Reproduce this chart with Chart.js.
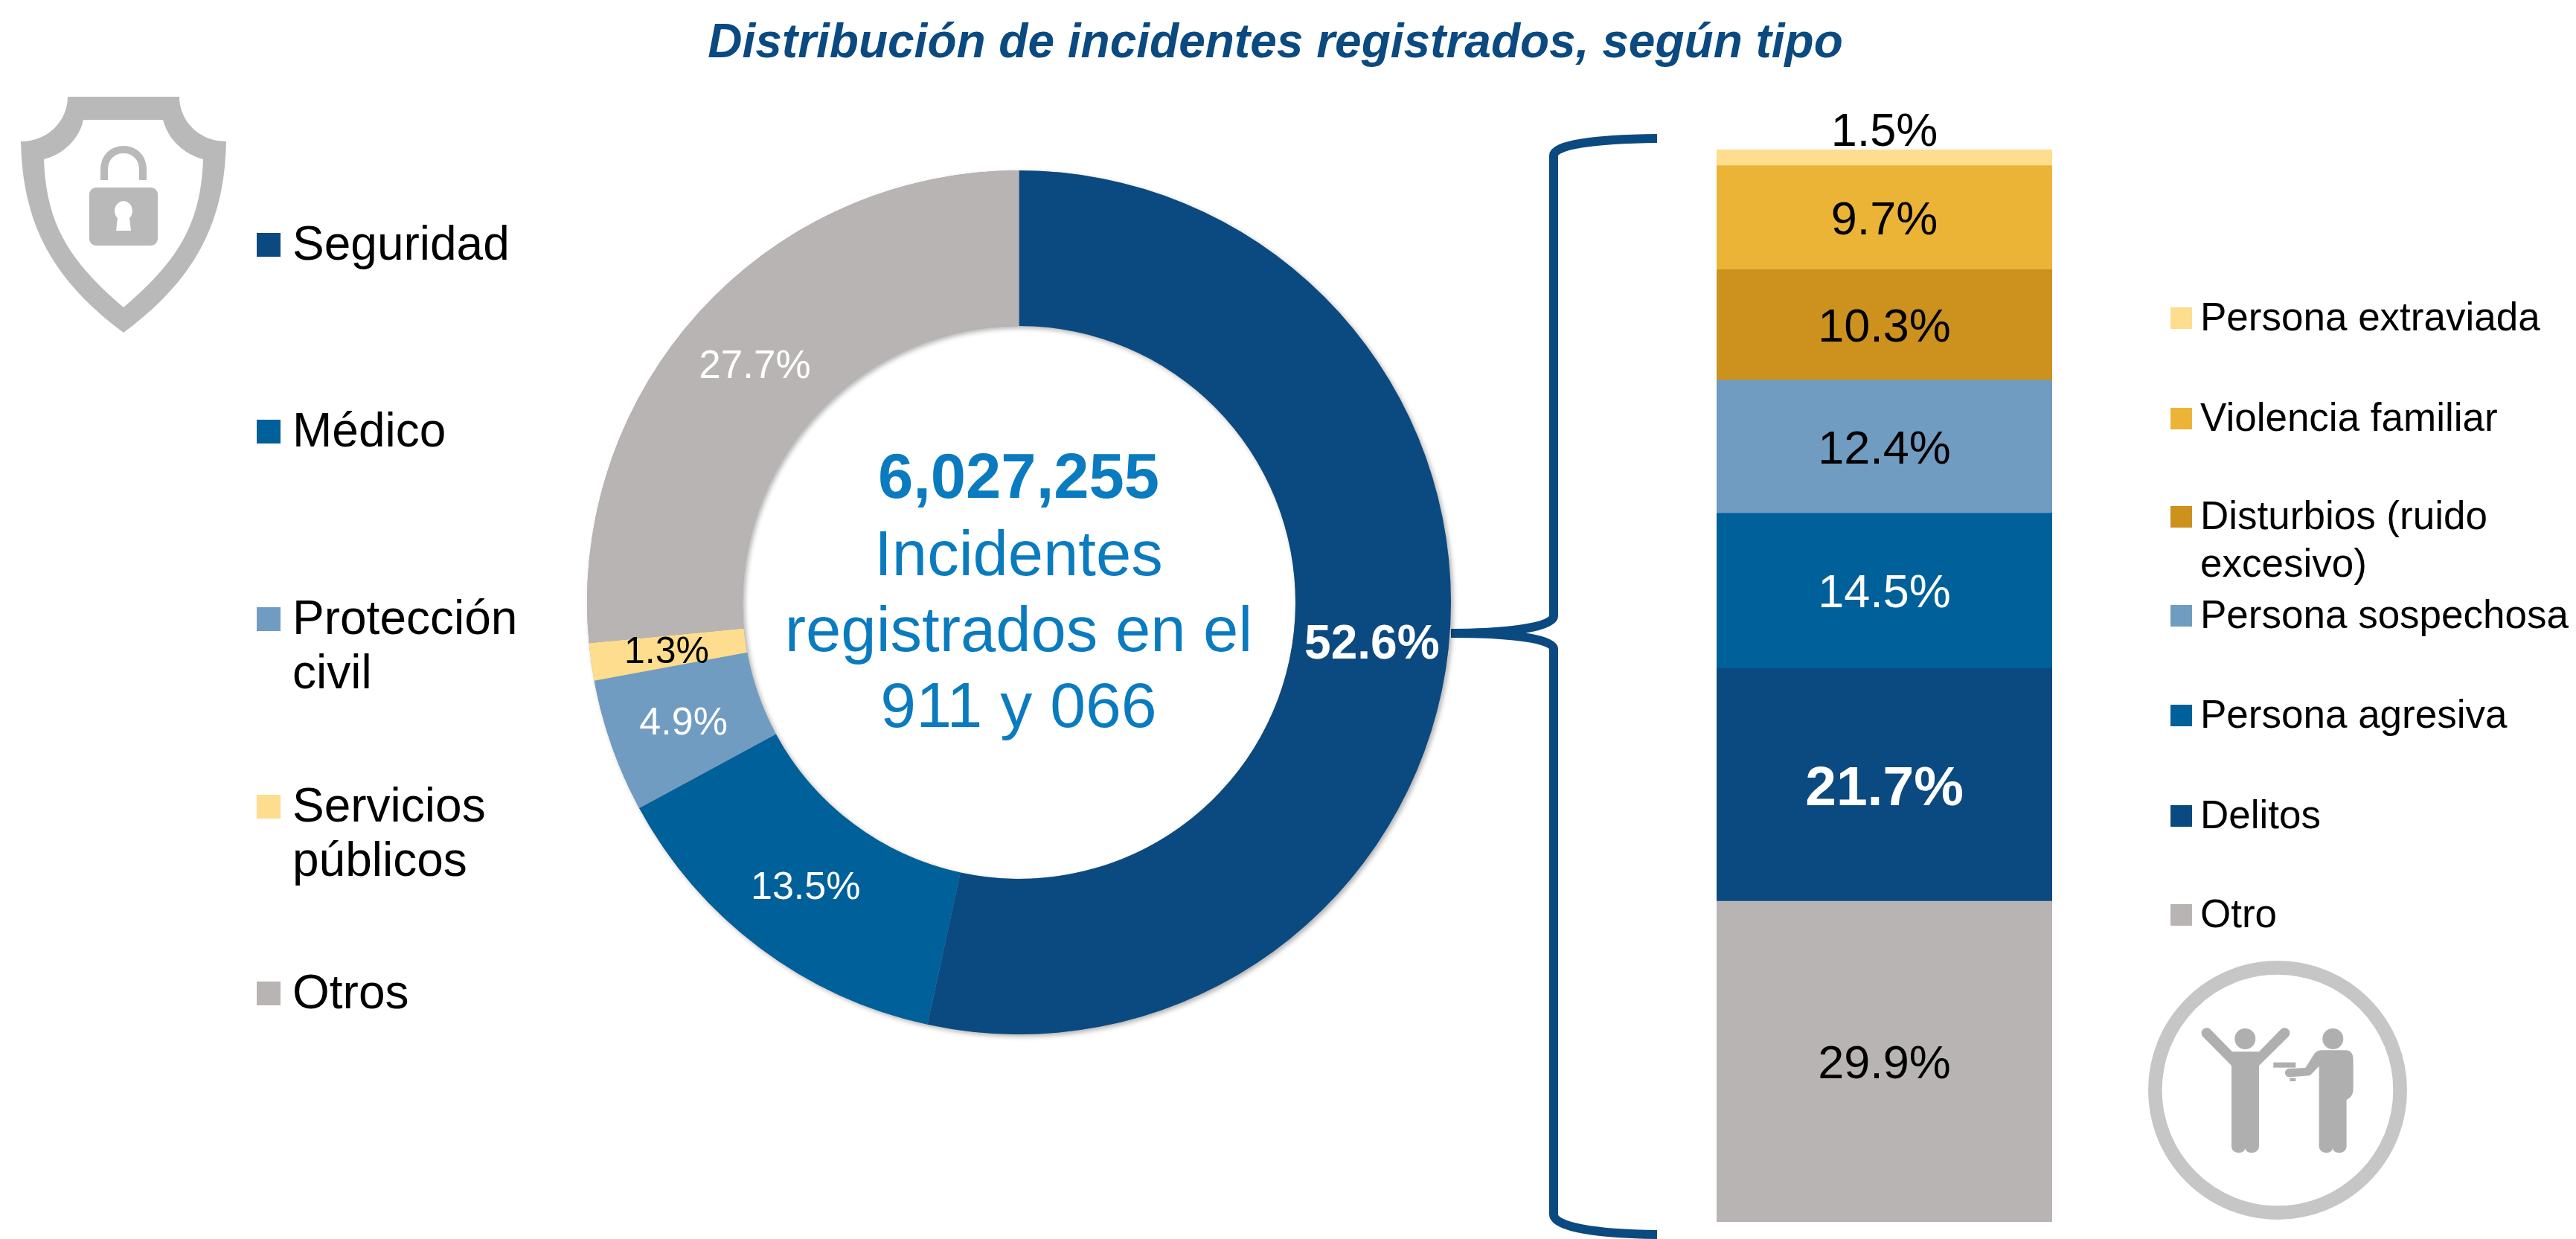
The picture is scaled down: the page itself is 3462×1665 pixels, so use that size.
<!DOCTYPE html>
<html lang="es"><head><meta charset="utf-8">
<script src="https://cdn.jsdelivr.net/npm/chart.js@4"></script>
<style>
html,body{margin:0;padding:0;background:#fff;width:3462px;height:1665px;overflow:hidden;font-family:"Liberation Sans",Arial,sans-serif}
canvas,svg,.t,.m{position:absolute}
.t{white-space:pre;color:#000}
.m{display:block}
</style></head><body>
<svg width="3462" height="1665" style="left:0;top:0">
  <path fill="none" stroke="#0b4a80" stroke-width="12" d="M2227,186 C2140,187 2088,195 2088,209 L2088,828 C2088,842 2030,851 1950,851 C2030,851 2088,858 2088,872 L2088,1632 C2088,1648 2140,1658 2227,1659"/>
  <g fill="#b9b9b9">
    <path fill-rule="evenodd" d="M91,130 L241,130 C241,160 265,190 304,190 C302,290 270,370 166,447 C62,370 30,290 28,190 C67,190 91,160 91,130 Z M112,161 L219,161 C225,185 245,207 273,214 C270,300 240,350 166,413 C92,350 62,300 59,214 C87,207 107,185 112,161 Z"/>
    <rect x="120" y="252" width="92" height="78" rx="9"/>
    <path fill="none" stroke="#b9b9b9" stroke-width="10" d="M140,242 L140,228 C140,192 192,192 192,228 L192,242"/>
    <path fill="#fff" d="M154,283 A12,13 0 1 1 174,293 L176,310 L156,310 L158,293 A12,13 0 0 1 154,283 Z"/>
  </g>
  <g transform="translate(2800,1250) scale(0.3333)">
    <circle cx="783" cy="645" r="494" fill="none" stroke="#c6c6c6" stroke-width="56"/>
    <g fill="#afafaf">
      <circle cx="652" cy="438" r="42"/><circle cx="1006" cy="438" r="42"/>
      <path d="M597,546 L482,430 A20,20 0 0 1 512,400 L600,490 L708,490 L796,400 A20,20 0 0 1 826,430 L708,546 L708,870 C708,905 655,905 652,878 C650,905 597,905 597,870 Z"/>
      <path d="M950,548 L914,586 L835,592 A17,17 0 0 1 826,558 L895,555 L930,500 C940,487 950,484 965,484 L1060,484 C1080,486 1088,500 1088,525 L1088,640 C1088,665 1075,678 1061,684 L1061,870 C1061,905 1008,905 1005,878 C1003,905 950,905 950,870 Z"/>
      <rect x="766" y="533" width="90" height="21"/><rect x="832" y="596" width="24" height="13"/>
    </g>
  </g>
</svg>
<canvas id="donut" width="1201" height="1201" style="left:769px;top:209px"></canvas>
<canvas id="bar" width="451" height="1565" style="left:2307px;top:100px"></canvas>
<div id="txt"></div>
<script>
const donutCategories=["Seguridad","Médico","Protección civil","Servicios públicos","Otros"];
// The printed percentages, and the shares the ring's arcs actually span in the picture (they differ slightly).
const donutPrinted=["52.6%","13.5%","4.9%","1.3%","27.7%"];
const donutArcShares=[53.4,13.7,5.0,1.4,26.5];
const donutColors=["#0b4a80","#00609a","#719cc2","#fedd8e","#b9b4b4"];
const barCategories=["Otro","Delitos","Persona agresiva","Persona sospechosa","Disturbios (ruido excesivo)","Violencia familiar","Persona extraviada"];
const barValues=[29.9,21.7,14.5,12.4,10.3,9.7,1.5];
const barColors=["#b9b4b4","#0b4a80","#00609a","#719cc2","#cd911e","#ecb437","#fedd8e"];

const FF='"Liberation Sans",Arial,sans-serif';
const donutLabelStyle=[
 {c:"#fff",s:64,b:true,dx:1,dy:7},{c:"#fff",s:52,dx:-1,dy:3},{c:"#fff",s:52,dx:-2,dy:5},{c:"#000",s:50,dx:-2,dy:2},{c:"#fff",s:53,dx:-3,dy:4}];
const barLabelStyle=[
 {c:"#000",s:63,dy:5},{c:"#fff",s:75,b:true,dy:7},{c:"#fff",s:63,dy:5},{c:"#000",s:63,dy:5},{c:"#000",s:63,dy:5},{c:"#000",s:63,dy:5},{c:"#000",s:63,dy:-33}];

const ringShadow={id:"ringShadow",beforeDatasetsDraw(ch){
  const a=ch.getDatasetMeta(0).data[0],ctx=ch.ctx;
  ctx.save();ctx.shadowColor="rgba(0,0,0,0.3)";ctx.shadowBlur=6;ctx.shadowOffsetX=3;ctx.shadowOffsetY=3;
  ctx.fillStyle="#999";ctx.beginPath();ctx.arc(a.x,a.y,a.outerRadius,0,2*Math.PI,false);ctx.arc(a.x,a.y,a.innerRadius,0,2*Math.PI,true);ctx.closePath();ctx.fill();ctx.restore();}};
const donutLabels={id:"donutLabels",afterDatasetsDraw(ch){
  const ctx=ch.ctx;ctx.save();ctx.textAlign="center";ctx.textBaseline="middle";
  ch.getDatasetMeta(0).data.forEach((arc,i)=>{
    const p=arc.tooltipPosition(),st=donutLabelStyle[i];
    ctx.fillStyle=st.c;ctx.font=(st.b?"bold ":"")+st.s+"px "+FF;
    ctx.fillText(donutPrinted[i],p.x+(st.dx||0),p.y+(st.dy||0));
  });ctx.restore();}};
const barLabels={id:"barLabels",afterDatasetsDraw(ch){
  const ctx=ch.ctx;ctx.save();ctx.textAlign="center";ctx.textBaseline="middle";
  ch.data.datasets.forEach((ds,i)=>{
    const el=ch.getDatasetMeta(i).data[0],p=el.getCenterPoint(),st=barLabelStyle[i];
    ctx.fillStyle=st.c;ctx.font=(st.b?"bold ":"")+st.s+"px "+FF;
    ctx.fillText(ds.data[0].toFixed(1)+"%",p.x,p.y+(st.dy||0));
  });ctx.restore();}};

new Chart(document.getElementById("donut"),{type:"doughnut",
  data:{labels:donutCategories,datasets:[{data:donutArcShares,backgroundColor:donutColors,borderWidth:0}]},
  options:{responsive:false,animation:false,cutout:"64%",rotation:0,circumference:360,
    layout:{padding:20},plugins:{legend:{display:false},tooltip:{enabled:false},title:{display:false}}},
  plugins:[ringShadow,donutLabels]});

new Chart(document.getElementById("bar"),{type:"bar",
  data:{labels:["Seguridad"],datasets:barCategories.map((n,i)=>({label:n,data:[barValues[i]],backgroundColor:barColors[i],borderWidth:0,barPercentage:1,categoryPercentage:1}))},
  options:{responsive:false,animation:false,layout:{padding:{top:101,bottom:23,left:0,right:0}},
    scales:{x:{display:false,stacked:true},y:{display:false,stacked:true,min:0,max:100}},
    plugins:{legend:{display:false},tooltip:{enabled:false}}},
  plugins:[barLabels]});

const box=document.getElementById("txt");
function text(s,x,yc,size,color,o={}){
  const d=document.createElement("div");d.className="t";d.textContent=s;
  d.style.cssText=`left:${x}px;top:${yc-size}px;height:${2*size}px;line-height:${2*size}px;font-size:${size}px;color:${color};${o.css||""}`;
  if(o.center){d.style.transform="translateX(-50%)";}
  box.appendChild(d);
}
function mark(x,yc,w,color){
  const d=document.createElement("div");d.className="m";
  d.style.cssText=`left:${x}px;top:${yc-w/2}px;width:${w}px;height:${w}px;background:${color}`;
  box.appendChild(d);
}
text("Distribución de incidentes registrados, según tipo",1714,55,64,"#0b4a80",{center:true,css:"font-weight:bold;font-style:italic;"});
const centerColor="#0a7bbf";
text("6,027,255",1369,640,85,centerColor,{center:true,css:"font-weight:bold;"});
text("Incidentes",1369,744,85,centerColor,{center:true});
text("registrados en el",1369,846,85,centerColor,{center:true});
text("911 y 066",1369,947,86,centerColor,{center:true});
[[["Seguridad"],327],[["Médico"],578],[["Protección","civil"],830],[["Servicios","públicos"],1082],[["Otros"],1333]].forEach(([ls,y],i)=>{
  mark(345,y+2,32,donutColors[i]);
  ls.forEach((l,j)=>text(l,393,y+j*73,64,"#000"));
});
const rightRows=[[6,["Persona extraviada"],426],[5,["Violencia familiar"],561],[4,["Disturbios (ruido","excesivo)"],693],[3,["Persona sospechosa"],826],[2,["Persona agresiva"],960],[1,["Delitos"],1095],[0,["Otro"],1228]];
rightRows.forEach(([c,ls,y])=>{
  mark(2917,y+1,29,barColors[c]);
  ls.forEach((l,j)=>text(l,2957,y+j*64,53,"#000"));
});
</script>
</body></html>
